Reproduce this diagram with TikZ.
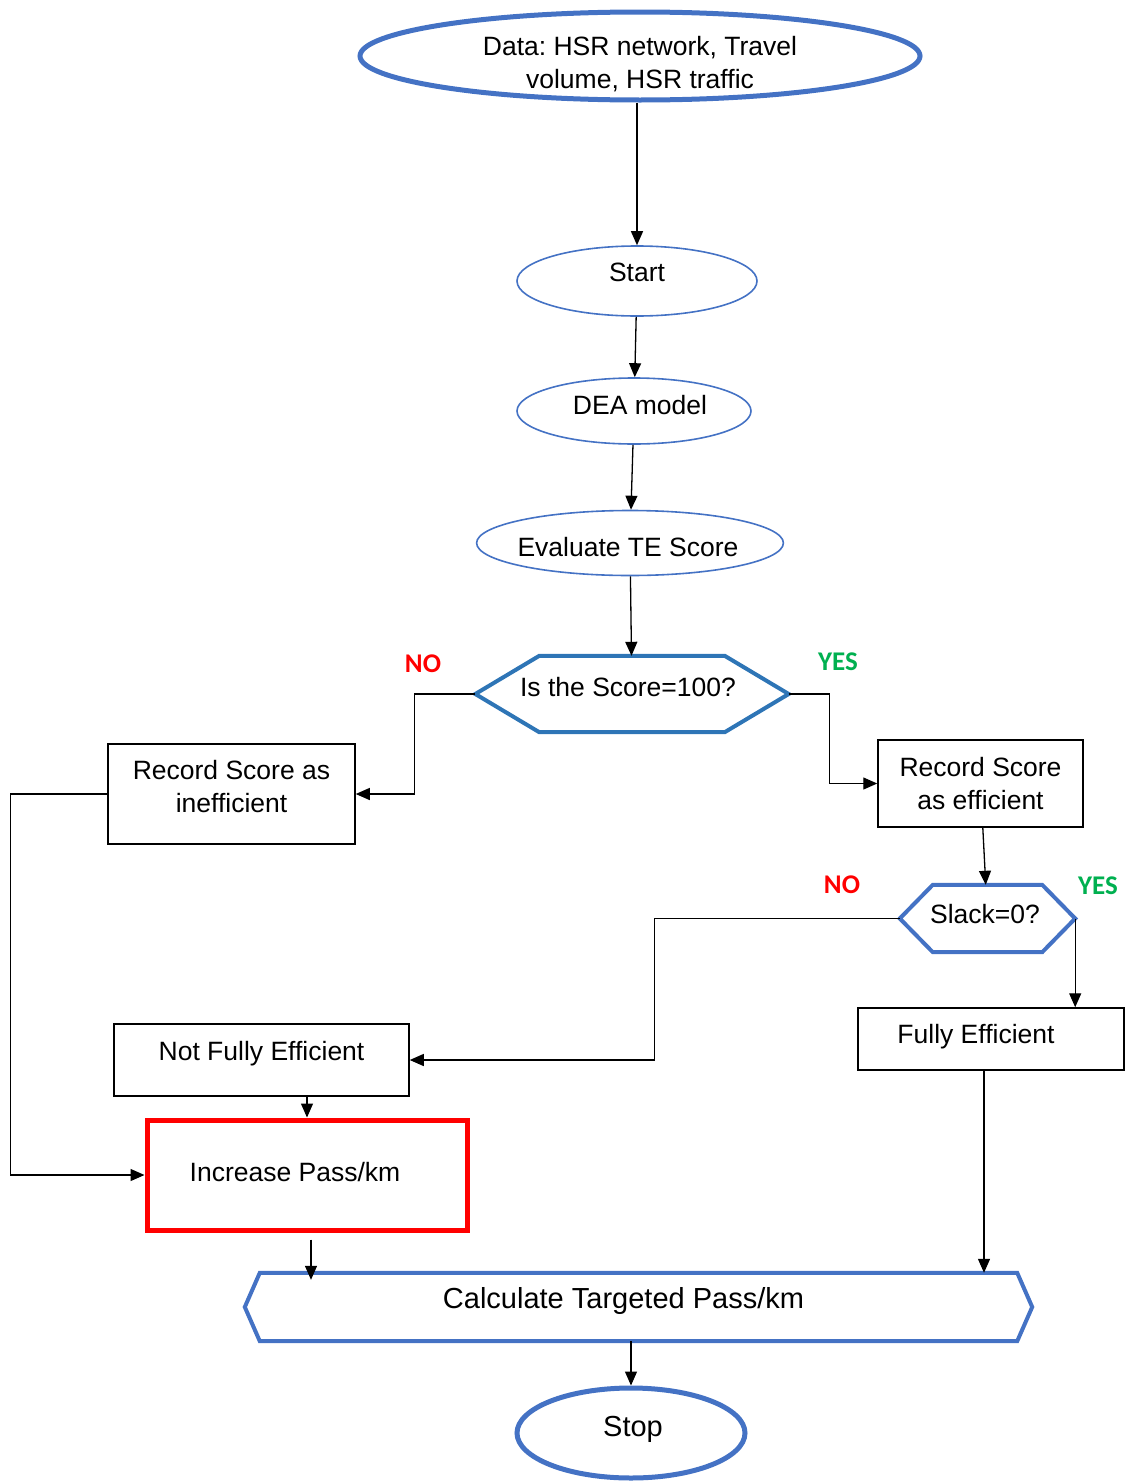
\documentclass[tikz,border=0pt]{standalone}
\usepackage{fontspec}
\setmainfont{Liberation Sans}
\newfontfamily\yesnofont{Carlito}
\usetikzlibrary{shapes.geometric,arrows.meta}
\frenchspacing
\definecolor{flowblue}{HTML}{4472C4}
\definecolor{hexblue}{HTML}{2E75B6}
\definecolor{yesgreen}{HTML}{00B050}
\tikzset{
  txt/.style={font=\fontsize{26.5}{33}\selectfont, align=center},
  oval/.style={txt, ellipse, draw=flowblue, line width=1.6pt, inner sep=0pt},
  thickoval/.style={oval, line width=5pt},
  recbox/.style={txt, rectangle, draw=black, line width=1.5pt, inner sep=0pt},
  hexin/.style={txt, rectangle, inner sep=0pt},
  hexline/.style={line width=4pt, line join=miter},
  arr/.style={-{Triangle[length=14pt,width=12pt]}, line width=1.3pt},
  nolab/.style={font={\yesnofont\bfseries\fontsize{27}{30}\selectfont}, text=red},
  yeslab/.style={font={\yesnofont\bfseries\fontsize{27}{30}\selectfont}, text=yesgreen}
}

\newcommand{\lift}[2]{\raisebox{#1}[0pt][0pt]{#2}}
\newcommand{\twolines}[2]{\begin{tabular}{@{}c@{}}#1\\#2\end{tabular}}

\newcommand{\hexnode}[7]{
\node [hexin, minimum width=#3, minimum height=#4] (#1) at (#2) {\makebox[0pt]{#6}};
\draw [hexline, draw=#7] (#1.north west) -- (#1.north east) -- ([xshift=#5]#1.east) coordinate (#1-r)
  -- (#1.south east) -- (#1.south west) -- ([xshift=-#5]#1.west) coordinate (#1-l) -- cycle;
}

\begin{document}
\begin{tikzpicture}[x=1pt,y=-1pt]
\useasboundingbox (0,0) rectangle (1128,1483);

\node [thickoval, minimum width=560pt, minimum height=88pt] (data) at (640,56) {\lift{-15.5pt}{\twolines{Data: HSR network, Travel}{volume, HSR traffic}}};
\node [oval, minimum width=240pt, minimum height=70pt] (start) at (637,281) {\lift{0pt}{Start}};
\node [oval, minimum width=234pt, minimum height=66pt] (dea) at (634,411) {\hspace*{12pt}\lift{-3pt}{DEA model}};
\node [oval, minimum width=302pt, minimum height=65pt] (te) at (630,543) {\hspace*{-4pt}\lift{-13.5pt}{Evaluate TE Score}};
\hexnode{score}{632,694}{185pt}{76pt}{64pt}{\hspace*{-8pt}\lift{-2.5pt}{Is the Score=100?}}{hexblue}
\node [recbox, minimum width=247pt, minimum height=100pt] (ineff) at (231.5,794) {\lift{-1.5pt}{\twolines{Record Score as}{inefficient}}};
\node [recbox, minimum width=205pt, minimum height=87pt] (eff) at (980.5,783.5) {\lift{-9pt}{\twolines{Record Score}{as efficient}}};
\hexnode{slack}{987.5,918.5}{109pt}{67pt}{33pt}{\hspace*{-5pt}\lift{-5pt}{Slack=0?}}{flowblue}
\node [recbox, minimum width=266pt, minimum height=62pt] (full) at (991,1039) {\hspace*{-30pt}\lift{-4.5pt}{Fully Efficient}};
\node [recbox, minimum width=295pt, minimum height=72pt] (notfull) at (261.5,1060) {\lift{0pt}{Not Fully Efficient}};
\node [recbox, draw=red, line width=5pt, minimum width=320pt, minimum height=110pt] (incr) at (307,1175) {\hspace*{-24pt}\lift{-6.5pt}{Increase Pass/km}};
\hexnode{calc}{638.5,1307}{757pt}{68pt}{15pt}{\fontsize{29}{33}\selectfont\hspace*{-30pt}\lift{-1pt}{Calculate Targeted Pass/km}}{flowblue}
\node [thickoval, minimum width=228pt, minimum height=90pt] (stop) at (631,1433) {\fontsize{29}{33}\selectfont\hspace*{4pt}\lift{-3.5pt}{Stop}};

\node [nolab] (no1) at (423,664) {NO};
\node [yeslab] (yes1) at (838,662) {YES};
\node [nolab] (no2) at (842,885) {NO};
\node [yeslab] (yes2) at (1098,886) {YES};

\draw [arr] (start.north |- data.south) -- (start);
\draw [arr] (start) -- (dea);
\draw [arr] (dea) -- (te);
\draw [arr] (te) -- (score);
\draw [arr] (score-l) -- ++(-61,0) |- (ineff);
\draw [arr] (score-r) -- ++(41,0) |- (eff);
\draw [arr] (eff) -- (slack);
\draw [arr] (slack-r) -- (slack-r |- full.north);
\draw [arr] (slack-l) -- ++(-245,0) |- (notfull);
\draw [arr] (incr.north |- notfull.south) -- (incr);
\draw [arr] (ineff.west) -- ++(-97,0) |- (incr);
\draw [arr] ([xshift=4pt,yshift=-7pt]incr.south) -- ([xshift=4pt,yshift=-7pt]incr.south |- calc.north);
\draw [arr] ([xshift=-7pt]full.south) -- ([xshift=-7pt]full.south |- calc.north);
\draw [arr] (stop.north |- calc.south) -- (stop);
\end{tikzpicture}
\end{document}
